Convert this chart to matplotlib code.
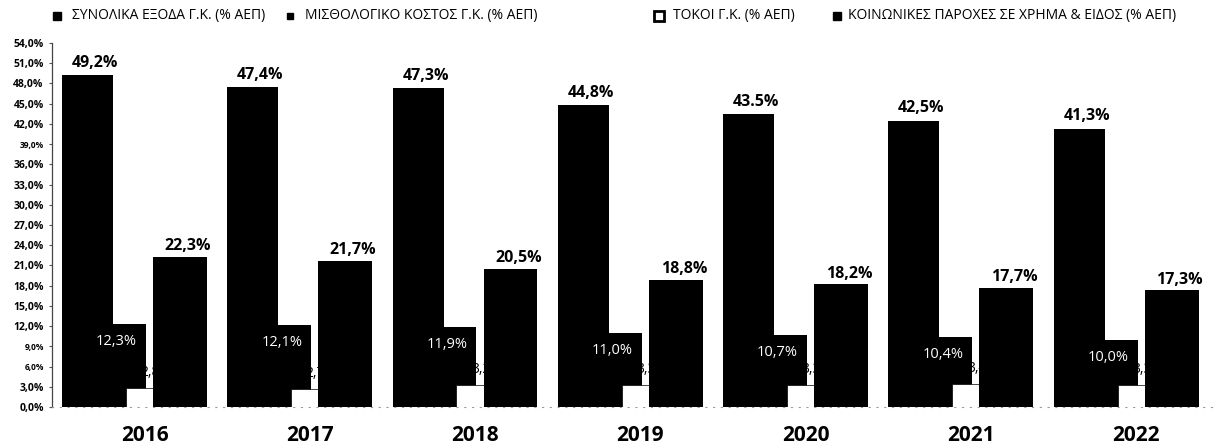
import matplotlib.pyplot as plt
from matplotlib.lines import Line2D
import numpy as np

plt.rcParams['font.family'] = ['Open Sans', 'DejaVu Sans']

# Δεδομένα (% ΑΕΠ)
years = ['2016', '2017', '2018', '2019', '2020', '2021', '2022']
total = [49.2, 47.4, 47.3, 44.8, 43.5, 42.5, 41.3]
wages = [12.3, 12.1, 11.9, 11.0, 10.7, 10.4, 10.0]
interest = [2.8, 2.7, 3.2, 3.3, 3.3, 3.4, 3.3]
social = [22.3, 21.7, 20.5, 18.8, 18.2, 17.7, 17.3]
yticks = np.arange(0, 55, 3)

legend_labels = ['ΣΥΝΟΛΙΚΑ ΕΞΟΔΑ Γ.Κ. (% ΑΕΠ)', 'ΜΙΣΘΟΛΟΓΙΚΟ ΚΟΣΤΟΣ Γ.Κ. (% ΑΕΠ)',
                 'ΤΟΚΟΙ Γ.Κ. (% ΑΕΠ)', 'ΚΟΙΝΩΝΙΚΕΣ ΠΑΡΟΧΕΣ ΣΕ ΧΡΗΜΑ & ΕΙΔΟΣ (% ΑΕΠ)']


def pct(v):
    return f'{v:.1f}%'.replace('.', ',')


total_lbl = [pct(v) for v in total]
total_lbl[4] = '43.5%'  # έτσι είναι στο πρωτότυπο

fig = plt.figure(figsize=(12.19, 4.47), dpi=100)
fig.patch.set_facecolor('white')
ax = fig.add_axes([52 / 1219, 1 - 407 / 447, 1163 / 1219, 364 / 447])

x = np.arange(len(years))
ax.bar(x, total, width=0.309, align='edge', color='black', zorder=2)
ax.bar(x + 0.309, wages, width=0.199, align='edge', color='black', zorder=2)
ax.bar(x + 0.387, interest, width=0.164, align='edge', color='white',
       edgecolor='black', linewidth=0.5, zorder=3)
ax.bar(x + 0.551, social, width=0.326, align='edge', color='black', zorder=5)

# ετικέτες
for i in range(len(years)):
    ax.annotate(total_lbl[i], (x[i] + 0.2, total[i]), xytext=(0, 3), textcoords='offset points',
                ha='center', va='bottom', fontsize=11.5, fontweight='bold')
    ax.annotate(pct(social[i]), (x[i] + 0.762, social[i]), xytext=(0, 2), textcoords='offset points',
                ha='center', va='bottom', fontsize=11.5, fontweight='bold')
    ax.text(x[i] + 0.33, wages[i] - 2.6, pct(wages[i]), color='white',
            ha='center', va='center', fontsize=10.5, zorder=6)
    # οι ετικέτες των τόκων κρύβονται σχεδόν ολόκληρες πίσω από τις μπάρες
    ax.text(x[i] + 0.57, interest[i] + 2.3, pct(interest[i]), color='black',
            ha='center', va='center', fontsize=10, zorder=4)

ax.set_xlim(-0.06, 6.976)
ax.set_ylim(0, 54)
ax.set_yticks(yticks)
ax.set_yticklabels([pct(v) for v in yticks], fontweight='bold')
for t, v in zip(ax.get_yticklabels(), yticks):
    t.set_fontsize(6 if v in (6, 9, 39) else 7.5)
ax.tick_params(axis='y', length=2, pad=4, color='#555555')

ax.set_xticks(x + 0.5)
ax.set_xticklabels(years, fontsize=15, fontweight='bold')
ax.tick_params(axis='x', length=0, pad=13)

for s in ['top', 'right']:
    ax.spines[s].set_visible(False)
ax.spines['left'].set_color('#444444')
ax.spines['left'].set_linewidth(0.9)
ax.spines['left'].set_linestyle((0, (5, 1)))
ax.spines['bottom'].set_color('#999999')
ax.spines['bottom'].set_linewidth(0.8)
ax.spines['bottom'].set_linestyle((0, (1, 6)))

# υπόμνημα στην κορυφή
ly = 1 - 16 / 447
marker_x = [57, 290, 659, 837]
text_x = [72, 305, 673, 848]
styles = [dict(ms=6, mfc='black', mec='black', mew=1),
          dict(ms=5, mfc='black', mec='black', mew=1),
          dict(ms=6.5, mfc='white', mec='black', mew=2),
          dict(ms=6, mfc='black', mec='black', mew=1)]
for mx, tx, st, lbl in zip(marker_x, text_x, styles, legend_labels):
    fig.add_artist(Line2D([mx / 1219], [ly], marker='s', linestyle='none',
                          transform=fig.transFigure, **st))
    fig.text(tx / 1219, ly, lbl, fontsize=10, va='center', ha='left')

fig.savefig('out.png', dpi=100, facecolor='white')
